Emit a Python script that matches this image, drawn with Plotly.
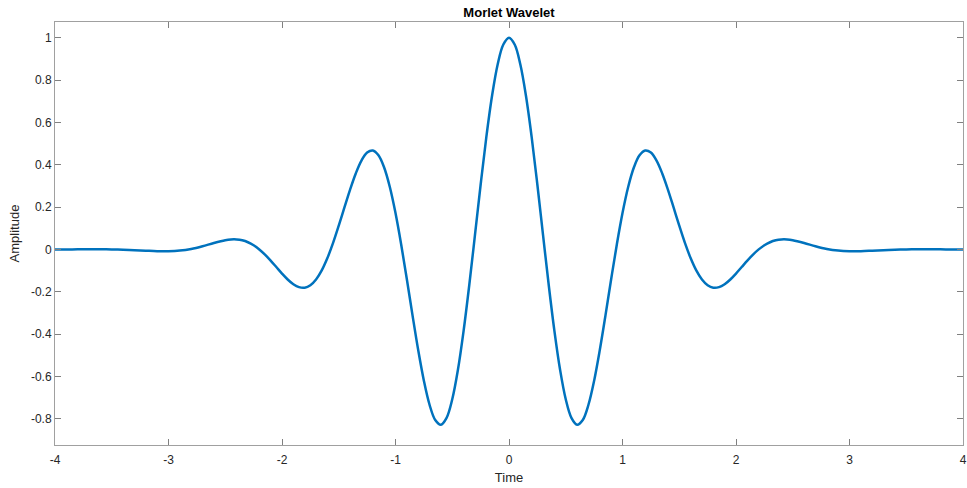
import plotly.graph_objects as go

half_time = [0.00, 0.05, 0.10, 0.15, 0.20, 0.25, 0.30, 0.35, 0.40, 0.45,
             0.50, 0.55, 0.60, 0.65, 0.70, 0.75, 0.80, 0.85, 0.90, 0.95,
             1.00, 1.05, 1.10, 1.15, 1.20, 1.25, 1.30, 1.35, 1.40, 1.45,
             1.50, 1.55, 1.60, 1.65, 1.70, 1.75, 1.80, 1.85, 1.90, 1.95,
             2.00, 2.05, 2.10, 2.15, 2.20, 2.25, 2.30, 2.35, 2.40, 2.45,
             2.50, 2.60, 2.70, 2.80, 2.90, 3.00, 3.10, 3.20, 3.30, 3.40,
             3.50, 3.60, 3.70, 3.80, 3.90, 4.00]
half_amp = [1.0000, 0.9677, 0.8732, 0.7235, 0.5296, 0.3056, 0.0676, -0.1677, -0.3841, -0.5677,
            -0.7070, -0.7946, -0.8269, -0.8048, -0.7330, -0.6194, -0.4746, -0.3108, -0.1406, 0.0239,
            0.1721, 0.2951, 0.3870, 0.4445, 0.4674, 0.4575, 0.4195, 0.3590, 0.2830, 0.1985,
            0.1125, 0.0312, -0.0405, -0.0989, -0.1419, -0.1689, -0.1803, -0.1779, -0.1640, -0.1416,
            -0.1136, -0.0829, -0.0524, -0.0241, 0.0004, 0.0201, 0.0343, 0.0433, 0.0474, 0.0473,
            0.0438, 0.0309, 0.0155, 0.0027, -0.0053, -0.0084, -0.0081, -0.0057, -0.0030, -0.0009,
            0.0005, 0.0010, 0.0010, 0.0007, 0.0003, 0.0001]

time = [-t for t in half_time[:0:-1]] + half_time
amplitude = half_amp[:0:-1] + half_amp

x_ticks = [-4, -3, -2, -1, 0, 1, 2, 3, 4]
x_tick_text = ["-4", "-3", "-2", "-1", "0", "1", "2", "3", "4"]
y_ticks = [-0.8, -0.6, -0.4, -0.2, 0, 0.2, 0.4, 0.6, 0.8, 1]
y_tick_text = ["-0.8", "-0.6", "-0.4", "-0.2", "0", "0.2", "0.4", "0.6", "0.8", "1"]

fig = go.Figure()
fig.add_trace(go.Scatter(x=time, y=amplitude, mode="lines",
                         line=dict(color="#0072BD", width=2.5, shape="spline", smoothing=1.0),
                         showlegend=False, cliponaxis=False))

font_family = "Arial, Liberation Sans, sans-serif"
axis_common = dict(showline=True, linecolor="#A0A0A0", linewidth=1, mirror="ticks",
                   ticks="inside", ticklen=6, tickcolor="#808080", showgrid=False, zeroline=False,
                   automargin=False,
                   tickfont=dict(family=font_family, size=12, color="#262626"))

fig.update_layout(
    width=967, height=488,
    margin=dict(l=55, r=4, t=22, b=43),
    paper_bgcolor="white", plot_bgcolor="white",
    title=dict(text="<b>Morlet Wavelet</b>", xref="paper", x=0.5, xanchor="center",
               y=0.974, yanchor="middle",
               font=dict(family=font_family, size=13, color="#000000")),
    xaxis=dict(range=[-4, 4], tickvals=x_ticks, ticktext=x_tick_text, ticklabelstandoff=4,
               title=dict(text="Time", standoff=6, font=dict(family=font_family, size=13, color="#262626")),
               **axis_common),
    yaxis=dict(range=[-0.923, 1.074], tickvals=y_ticks, ticktext=y_tick_text,
               title=dict(text="Amplitude", standoff=8, font=dict(family=font_family, size=13, color="#262626")),
               **axis_common),
)

fig.write_html("out.html", config={"displayModeBar": False},
               post_script="document.body.style.margin='0px';")
